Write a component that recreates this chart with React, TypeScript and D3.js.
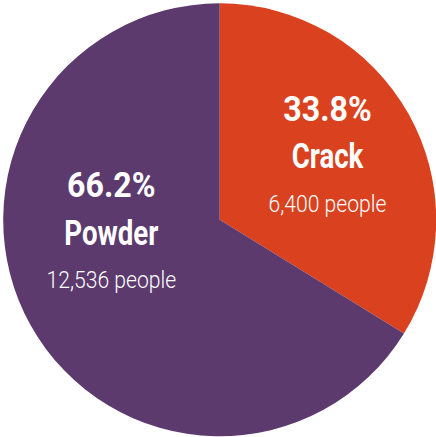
import React from "react";
import * as d3 from "d3";

const categories = ["Crack", "Powder"];
const percents = [33.8, 66.2];
const people = [6400, 12536];
const colors = ["#D9411F", "#5C3A6E"];

const W = 436;
const H = 437;
const cx = 219.7;
const cy = 219.8;
const R = 216.5;

// label anchor positions (centre x, baseline of first line)
const labelPos = [
  { x: 327.5, y: 120.7 },
  { x: 111.3, y: 197 },
];

export default function App() {
  const pie = d3
    .pie<number>()
    .sort(null)
    .value((d) => d);
  const arcs = pie(percents);
  const arc = d3.arc<d3.PieArcDatum<number>>().innerRadius(0).outerRadius(R);
  const fmt = d3.format(",");
  const font = "Roboto, 'Noto Sans', sans-serif";
  return (
    <svg
      width={W}
      height={H}
      style={{ position: "absolute", left: 0, top: 0, background: "#fff" }}
    >
      <g transform={`translate(${cx},${cy})`}>
        {arcs.map((a, i) => (
          <path key={i} d={arc(a) || ""} fill={colors[i]} />
        ))}
      </g>
      {categories.map((c, i) => {
        const p = labelPos[i];
        return (
          <g key={c} fill="#fff" fontFamily={font} textAnchor="middle">
            <text
              transform={`translate(${p.x},${p.y}) scale(0.92,1)`}
              fontSize={35}
              fontWeight={700}
            >
              {percents[i].toFixed(1)}%
            </text>
            <text
              transform={`translate(${p.x},${p.y + 47.5}) scale(0.79,1)`}
              fontSize={35}
              fontWeight={700}
            >
              {c}
            </text>
            <text
              transform={`translate(${p.x},${p.y + 91}) scale(0.88,1)`}
              fontSize={24}
              fontWeight={300}
            >
              {fmt(people[i])} people
            </text>
          </g>
        );
      })}
    </svg>
  );
}
